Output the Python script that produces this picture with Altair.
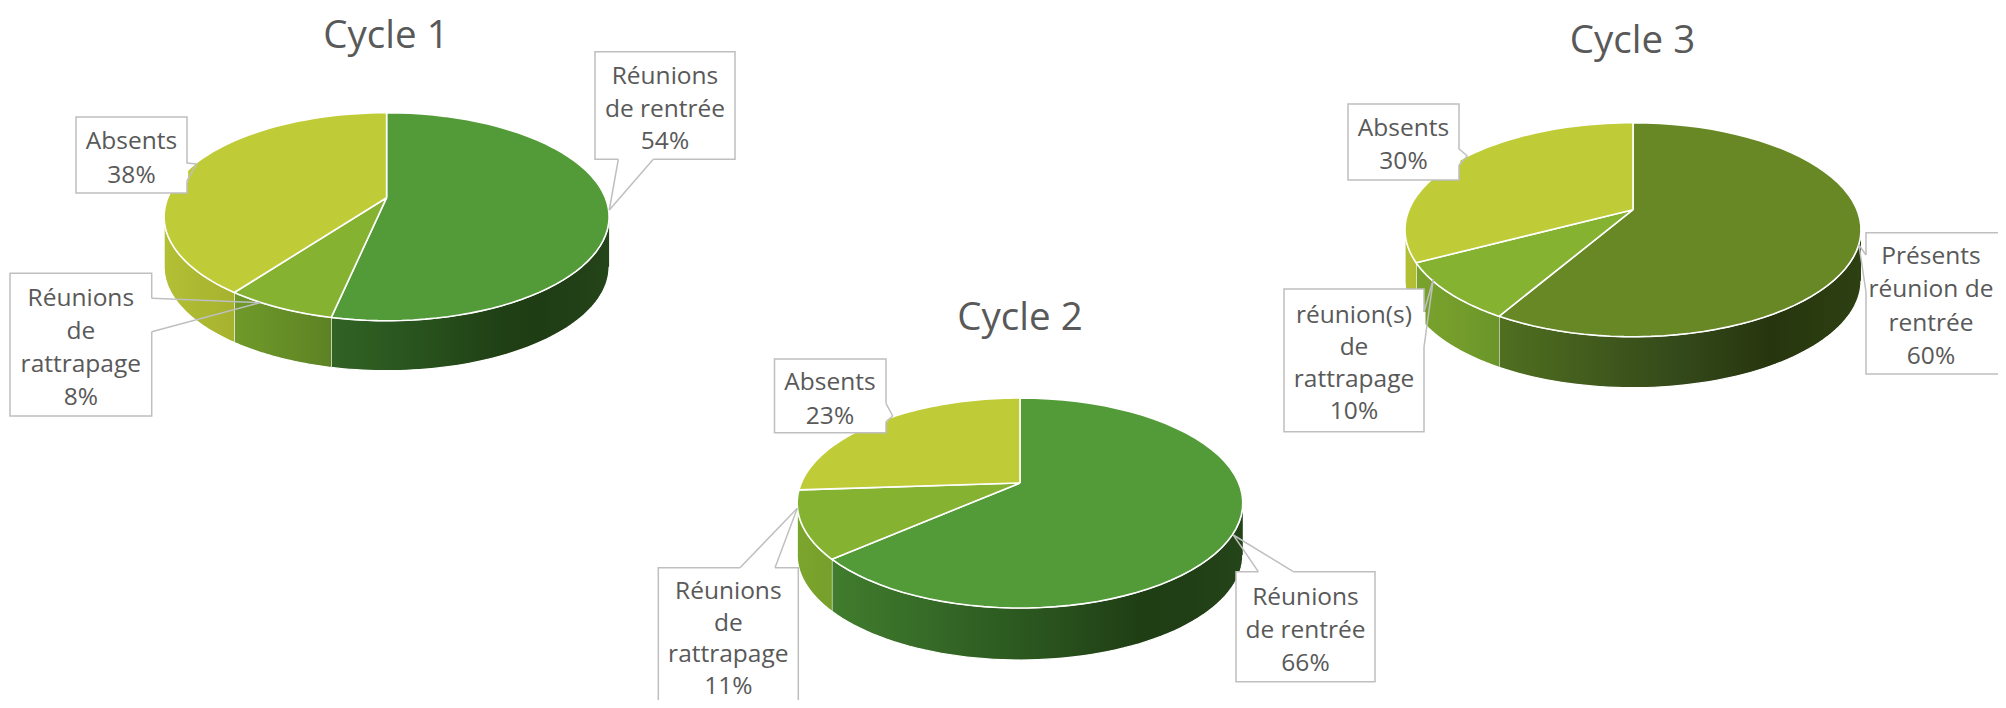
import math
import altair as alt
import pandas as pd

# ---------------- data ----------------
cycle_names = ["Cycle 1", "Cycle 2", "Cycle 3"]
slice_keys = [
    ["rentree", "rattrapage", "absents"],
    ["rentree", "rattrapage", "absents"],
    ["presents", "rattrapage", "absents"],
]
slice_labels = [
    ["Réunions\nde rentrée", "Réunions\nde\nrattrapage", "Absents"],
    ["Réunions\nde rentrée", "Réunions\nde\nrattrapage", "Absents"],
    ["Présents\nréunion de\nrentrée", "réunion(s)\nde\nrattrapage", "Absents"],
]
slice_values = [
    [54, 8, 38],
    [66, 11, 23],
    [60, 10, 30],
]

# ---------------- layout / style ----------------
W, H = 1990, 692
OFF = 8  # page margin, layout below is in page pixels
N = 64   # arc resolution

PIE = {
    "Cycle 1": dict(cx=386.6, cy=216.7, rx=222.5, ry=104.0, voff=19.0, depth=50.0, tx=386.0, ty=48.0),
    "Cycle 2": dict(cx=1020.0, cy=503.0, rx=222.8, ry=105.0, voff=20.0, depth=52.0, tx=1020.0, ty=330.0),
    "Cycle 3": dict(cx=1633.0, cy=229.7, rx=228.0, ry=107.0, voff=20.0, depth=51.0, tx=1632.5, ty=52.7),
}

# label boxes: (x1, x2, y1, y2), first text line centre, line height, callout (A, tip, B)
LABELS = {
    "Cycle 1": [
        dict(box=(595, 735, 51.7, 159.3), t=(665, 77), lh=32.5, co=((618.3, 159.3), (609.3, 210), (653.3, 159.3))),
        dict(box=(10, 151.7, 273.3, 416), t=(80.8, 298.5), lh=33.3, co=((151.7, 298.3), (260, 302.7), (151.7, 331.7))),
        dict(box=(76, 187, 117, 193), t=(131.5, 141.5), lh=34, co=((186.6, 163), (196.7, 164), (186.6, 181.7))),
    ],
    "Cycle 2": [
        dict(box=(1236, 1375, 571.7, 681.7), t=(1305.5, 597.5), lh=33, co=((1258.3, 571.7), (1233.3, 535), (1293.3, 571.7))),
        dict(box=(658.3, 798.3, 567.7, 730), t=(728.3, 592), lh=31.5, co=((740, 567.7), (797.3, 508.3), (775, 567.7))),
        dict(box=(774.5, 886, 359, 432.7), t=(830, 383), lh=34, co=((886, 403.3), (892.7, 416), (886, 421.7))),
    ],
    "Cycle 3": [
        dict(box=(1866, 2010, 232.7, 374), t=(1931, 257), lh=33.3, co=((1866, 255), (1859, 245), (1866, 292))),
        dict(box=(1284, 1424, 289, 431.7), t=(1354, 315.5), lh=32.2, co=((1424, 312), (1433.3, 279.3), (1424, 347))),
        dict(box=(1348, 1459, 104, 180), t=(1403.5, 128.5), lh=33.3, co=((1458.3, 148.3), (1467.3, 156), (1459, 165))),
    ],
}

TOP_COLORS = {
    "rentree": "#529B38",
    "presents": "#688826",
    "rattrapage": "#86B231",
    "absents": "#BFCC37",
}
# side-wall shading across the whole pie width (0 = left edge, 1 = right edge)
SIDE_STOPS = {
    "rentree": [(0, "#45842F"), (0.3, "#356A27"), (0.6, "#27501C"), (0.8, "#1E3B13"), (1, "#244419")],
    "presents": [(0, "#5F7F23"), (0.25, "#4D6B1F"), (0.6, "#34491A"), (0.8, "#27350E"), (1, "#2D4012")],
    "rattrapage": [(0, "#7CA52D"), (0.2, "#6C9629"), (0.4, "#5A7F23"), (1, "#4E6E1E")],
    "absents": [(0, "#B3BF34"), (0.2, "#A3AE2E"), (1, "#98A22A")],
}
TEXT_COLOR = "#595959"
BORDER = "#BFBFBF"
FONT = "Open Sans"


def hex2rgb(h):
    h = h.lstrip("#")
    return tuple(int(h[i:i + 2], 16) for i in (0, 2, 4))


def interp(stops, f):
    f = max(0.0, min(1.0, f))
    for (o0, c0), (o1, c1) in zip(stops[:-1], stops[1:]):
        if o0 <= f <= o1:
            w = 0 if o1 == o0 else (f - o0) / (o1 - o0)
            a, b = hex2rgb(c0), hex2rgb(c1)
            return "#%02x%02x%02x" % tuple(round(a[i] + (b[i] - a[i]) * w) for i in range(3))
    return stops[-1][1]


# ---------------- tables ----------------
rows = []
for ci, cyc in enumerate(cycle_names):
    for si, (k, lab, v) in enumerate(zip(slice_keys[ci], slice_labels[ci], slice_values[ci])):
        p = PIE[cyc]
        rows.append(dict(sid=f"{ci}-{si}", cycle=cyc, key=k, value=v, ord=si,
                         cx=p["cx"], cy=p["cy"], rx=p["rx"], ry=p["ry"],
                         voff=p["voff"], depth=p["depth"]))
pie_df = pd.DataFrame(rows)

box_rows, line_rows, seg_rows = [], [], []
for ci, cyc in enumerate(cycle_names):
    for si, (lab, v) in enumerate(zip(slice_labels[ci], slice_values[ci])):
        L = LABELS[cyc][si]
        bx1, bx2, by1, by2 = L["box"]
        box_rows.append(dict(bx1=bx1, bx2=bx2, by1=by1, by2=by2))
        lines = lab.split("\n") + [f"{v}%"]
        for li, ln in enumerate(lines):
            line_rows.append(dict(text=ln, tx=L["t"][0], ty=L["t"][1] + li * L["lh"]))
        A, T, B = L["co"]
        seg_rows.append(dict(kind="erase", x=A[0], y=A[1], x2=B[0], y2=B[1]))
        seg_rows.append(dict(kind="line", x=A[0], y=A[1], x2=T[0], y2=T[1]))
        seg_rows.append(dict(kind="line", x=T[0], y=T[1], x2=B[0], y2=B[1]))
box_df = pd.DataFrame(box_rows)
line_df = pd.DataFrame(line_rows)
seg_df = pd.DataFrame(seg_rows)
title_df = pd.DataFrame([dict(name=c, tx=PIE[c]["tx"], ty=PIE[c]["ty"]) for c in cycle_names])

xs = alt.Scale(domain=[OFF, OFF + W], nice=False, zero=False)
ys = alt.Scale(domain=[OFF, OFF + H], reverse=True, nice=False, zero=False)


def X(f):
    return alt.X(f, type="quantitative", scale=xs, axis=None)


def Y(f):
    return alt.Y(f, type="quantitative", scale=ys, axis=None)


# ---------------- pies ----------------
base = (
    alt.Chart(pie_df)
    .transform_joinaggregate(total="sum(value)", groupby=["cycle"])
    .transform_window(cum="sum(value)", groupby=["cycle"], sort=[alt.SortField("ord")], frame=[None, 0])
    .transform_calculate(a0="2*PI*(datum.cum - datum.value)/datum.total")
    .transform_calculate(a1="2*PI*datum.cum/datum.total")
)

top = (
    base.transform_calculate(steps=f"sequence(0, {N + 3})")
    .transform_flatten(["steps"], as_=["k"])
    .transform_calculate(t=f"clamp((datum.k - 1)/{N}, 0, 1)")
    .transform_calculate(a="datum.a0 + (datum.a1 - datum.a0)*datum.t")
    .transform_calculate(isv=f"datum.k == 0 || datum.k == {N + 2}")
    .transform_calculate(px="datum.isv ? datum.cx : datum.cx + datum.rx*sin(datum.a)")
    .transform_calculate(py="datum.isv ? datum.cy - datum.voff : datum.cy - datum.ry*cos(datum.a)")
    .mark_line(filled=True, stroke="white", strokeWidth=1.6, strokeJoin="round")
    .encode(
        x=X("px"), y=Y("py"),
        color=alt.Color("key:N", scale=alt.Scale(domain=list(TOP_COLORS.keys()),
                                                 range=list(TOP_COLORS.values())), legend=None),
        detail="sid:N",
        order="k:Q",
    )
)

side_base = (
    base.transform_calculate(b0="clamp(datum.a0, PI/2, 3*PI/2)")
    .transform_calculate(b1="clamp(datum.a1, PI/2, 3*PI/2)")
    .transform_filter("datum.b1 - datum.b0 > 1e-6")
    .transform_calculate(steps=f"sequence(0, {2 * N + 2})")
    .transform_flatten(["steps"], as_=["k"])
    .transform_calculate(low=f"datum.k > {N}")
    .transform_calculate(u=f"datum.k <= {N} ? datum.k/{N} : 1 - (datum.k - {N + 1})/{N}")
    .transform_calculate(a="datum.b0 + (datum.b1 - datum.b0)*datum.u")
    .transform_calculate(px="datum.cx + datum.rx*sin(datum.a)")
    .transform_calculate(py="datum.cy - datum.ry*cos(datum.a) + (datum.low ? datum.depth : 0)")
)

side_layers = []
for ci, cyc in enumerate(cycle_names):
    vals = slice_values[ci]
    tot = sum(vals)
    cum = 0
    p = PIE[cyc]
    for si, v in enumerate(vals):
        a0 = 2 * math.pi * cum / tot
        cum += v
        a1 = 2 * math.pi * cum / tot
        b0 = min(max(a0, math.pi / 2), 3 * math.pi / 2)
        b1 = min(max(a1, math.pi / 2), 3 * math.pi / 2)
        if b1 - b0 <= 1e-6:
            continue
        xmin = p["cx"] + p["rx"] * math.sin(b1)
        xmax = p["cx"] + p["rx"] * math.sin(b0)
        key = slice_keys[ci][si]
        stops = []
        for j in range(9):
            uu = j / 8
            f = (xmin + uu * (xmax - xmin) - (p["cx"] - p["rx"])) / (2 * p["rx"])
            stops.append(alt.GradientStop(offset=uu, color=interp(SIDE_STOPS[key], f)))
        grad = alt.LinearGradient(gradient="linear", stops=stops, x1=0, x2=1, y1=0, y2=0)
        side_layers.append(
            side_base.transform_filter(f"datum.sid == '{ci}-{si}'")
            .mark_line(filled=True, fill=grad, stroke="white", strokeWidth=1.2, strokeJoin="round")
            .encode(x=X("px"), y=Y("py"), order="k:Q")
        )

# ---------------- labels ----------------
boxes = alt.Chart(box_df).mark_rect(fill="white", stroke=BORDER, strokeWidth=1.5).encode(
    x=X("bx1"), x2="bx2", y=Y("by1"), y2="by2"
)
erase = alt.Chart(seg_df).transform_filter("datum.kind == 'erase'").mark_rule(
    stroke="white", strokeWidth=3
).encode(x=X("x"), y=Y("y"), x2="x2", y2="y2")
callouts = alt.Chart(seg_df).transform_filter("datum.kind == 'line'").mark_rule(
    stroke=BORDER, strokeWidth=1.5
).encode(x=X("x"), y=Y("y"), x2="x2", y2="y2")
texts = alt.Chart(line_df).mark_text(
    font=FONT, fontSize=24.5, color=TEXT_COLOR, align="center", baseline="middle"
).encode(x=X("tx"), y=Y("ty"), text="text:N")
titles = alt.Chart(title_df).mark_text(
    font=FONT, fontSize=38.5, color=TEXT_COLOR, align="center", baseline="alphabetic"
).encode(x=X("tx"), y=Y("ty"), text="name:N")

chart = (
    alt.layer(*side_layers, top, boxes, erase, callouts, texts, titles)
    .properties(width=W, height=H, padding=0, autosize=alt.AutoSizeParams(type="none"),
                background="white")
    .configure_view(stroke=None)
)

chart.save("out.html", embed_options={"renderer": "svg", "actions": False})
